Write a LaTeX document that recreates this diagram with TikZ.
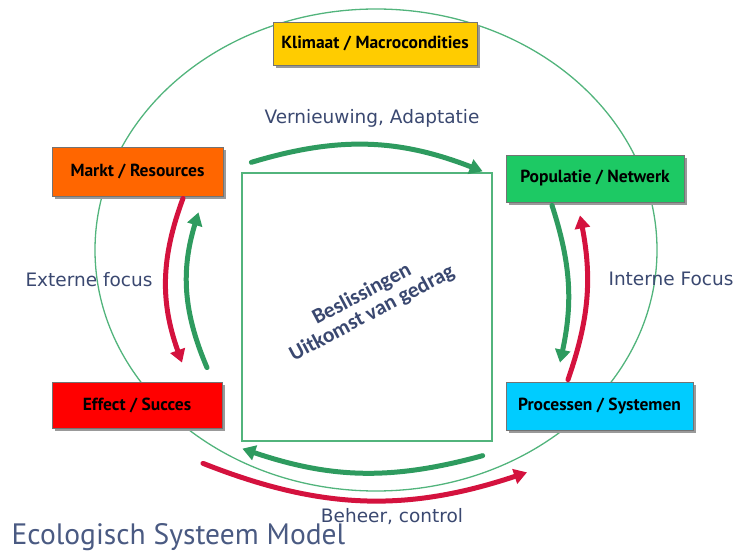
\documentclass[tikz,border=0pt]{standalone}
\usepackage{fontspec}
\setmainfont{PT Sans}
\newfontfamily\labelfont{DejaVu Sans}
\newfontfamily\kernfont{Carlito}
\usetikzlibrary{arrows.meta,shadows}
\definecolor{eco-green}{HTML}{2E9B5F}
\definecolor{eco-line}{HTML}{52B47C}
\definecolor{eco-red}{HTML}{D4123E}
\definecolor{eco-text}{HTML}{3A4870}
\definecolor{eco-title}{HTML}{4A5A82}
\definecolor{box-yellow}{HTML}{FFCC00}
\definecolor{box-orange}{HTML}{FF6600}
\definecolor{box-green}{HTML}{1DC964}
\definecolor{box-red}{HTML}{FF0000}
\definecolor{box-cyan}{HTML}{00CCFF}

\begin{document}
\begin{tikzpicture}[x=1pt,y=1pt,
  blok/.style={draw=black!55,line width=0.7pt,inner sep=0pt,
    drop shadow={shadow xshift=3pt,shadow yshift=-3pt,fill=black!40,opacity=1},
    font=\fontsize{17.5}{19}\selectfont\bfseries},
  groenpijl/.style={eco-green,line width=5pt,line cap=round,-{Triangle[width=15pt,length=13pt]}},
  roodpijl/.style={eco-red,line width=5pt,line cap=round,-{Triangle[width=15pt,length=13pt]}},
  tekst/.style={text=eco-text,font=\labelfont\fontsize{18.5}{20}\selectfont}]
  \useasboundingbox (0,0) rectangle (736,-553);
  % outer ring and core
  \draw[eco-line,line width=1.3pt] (376,-250) ellipse [x radius=281,y radius=241];
  \node[draw=eco-line,line width=1.3pt,minimum width=250,minimum height=268,inner sep=0pt] (kern) at (367,-307) {};
  \node[rotate=28,align=center,text=eco-text,font=\kernfont\fontsize{21.5}{21.5}\selectfont\bfseries] (besluit) at (367,-304) {Beslissingen\\Uitkomst van gedrag};
  % boxes
  \node[blok,fill=box-yellow,minimum width=204,minimum height=43] (klimaat) at (375,-43.5) {Klimaat / Macrocondities};
  \node[blok,fill=box-orange,minimum width=171,minimum height=49] (markt) at (137.5,-171.5) {Markt / Resources};
  \node[blok,fill=box-green,minimum width=178,minimum height=47] (populatie) at (595,-178.5) {Populatie / Netwerk};
  \node[blok,fill=box-red,minimum width=170,minimum height=46] (effect) at (137,-405) {Effect / Succes};
  \node[blok,fill=box-cyan,minimum width=187,minimum height=48] (processen) at (599.5,-406) {Processen / Systemen};
  % arrows
  \draw[groenpijl] ([xshift=10pt,yshift=10pt]kern.north west) to[bend left=19] ([xshift=-10pt,yshift=1pt]kern.north east);
  \draw[roodpijl] ([xshift=45.5pt,yshift=-2pt]markt.south) to[bend right=20] ([xshift=45pt,yshift=19pt]effect.north);
  \draw[groenpijl] ([xshift=70pt,yshift=14pt]effect.north) to[bend left=20] ([xshift=61pt,yshift=-16pt]markt.south);
  \draw[groenpijl] ([xshift=-43pt,yshift=-3pt]populatie.south) to[bend left=15] ([xshift=-39.5pt,yshift=19pt]processen.north);
  \draw[roodpijl] ([xshift=-31.5pt,yshift=2pt]processen.north) to[bend right=15] ([xshift=-15pt,yshift=-13pt]populatie.south);
  \draw[groenpijl] ([xshift=-10pt,yshift=-14pt]kern.south east) to[bend left=17] ([xshift=1pt,yshift=-7pt]kern.south west);
  \draw[roodpijl] ([xshift=66pt,yshift=-35pt]effect.south) to[bend right=20] ([xshift=-72.5pt,yshift=-42pt]processen.south);
  % labels
  \node[tekst] (vernieuwing) at (372,-118) {Vernieuwing, Adaptatie};
  \node[tekst] (extern) at (89,-280) {Externe focus};
  \node[tekst] (intern) at (671,-279) {Interne Focus};
  \node[tekst] (beheer) at (392,-517) {Beheer, control};
  \node[anchor=west,text=eco-title,font=\fontsize{29.5}{31}\selectfont] (titel) at (8,-537) {Ecologisch Systeem Model};
\end{tikzpicture}
\end{document}
